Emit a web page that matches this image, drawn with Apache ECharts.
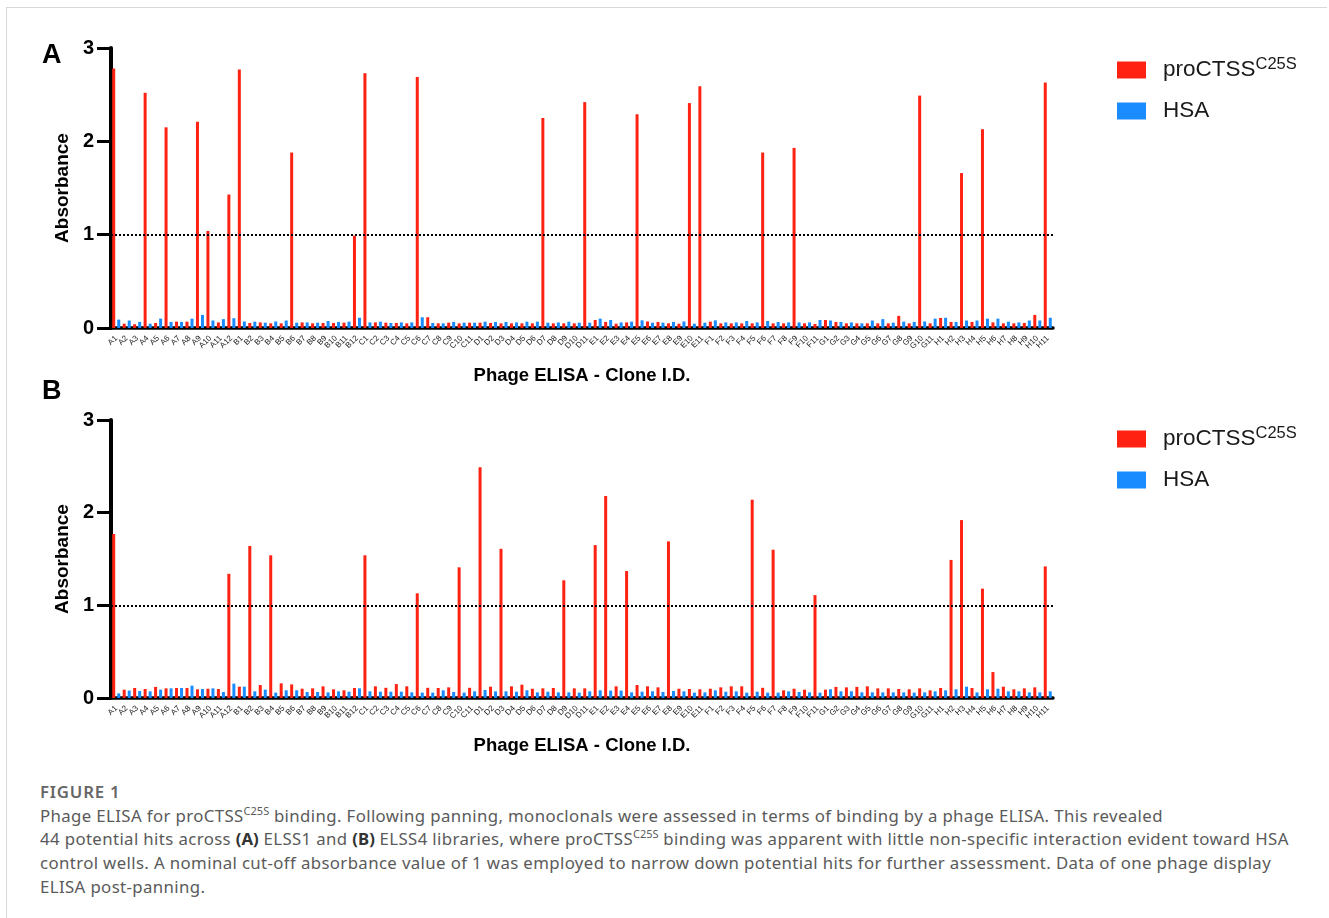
<!DOCTYPE html>
<html>
<head>
<meta charset="utf-8">
<title>Phage ELISA</title>
<script src="https://cdn.jsdelivr.net/npm/echarts@6/dist/echarts.min.js"></script>
<style>
  html, body { margin: 0; padding: 0; background: #fff; }
  #frame {
    position: absolute; left: 6px; top: 7px; width: 1320px; height: 920px;
    border-left: 1px solid #d8d8d8; border-top: 1px solid #d8d8d8;
  }
  #chart { position: absolute; left: 0; top: 0; width: 1329px; height: 770px; }
  #caption {
    position: absolute; left: 40px; top: 780px; white-space: nowrap;
    font-family: 'Noto Sans', sans-serif; font-size: 16.8px; letter-spacing: 0.38px;
    line-height: 23.7px; color: #5a5a5a;
  }
  #caption .fig { font-weight: 600; color: #666; letter-spacing: 0.8px; }
  #caption sup { font-size: 11px; line-height: 0; letter-spacing: 0; }
  #caption b { color: #333; letter-spacing: 0; }
</style>
</head>
<body>
<div id="frame"></div>
<div id="chart"></div>
<div id="caption">
  <div class="fig">FIGURE 1</div>
  Phage ELISA for proCTSS<sup>C25S</sup> binding. Following panning, monoclonals were assessed in terms of binding by a phage ELISA. This revealed<br>
  44 potential hits across <b>(A)</b> ELSS1 and <b>(B)</b> ELSS4 libraries, where proCTSS<sup>C25S</sup> binding was apparent with little non-specific interaction evident toward HSA<br>
  control wells. A nominal cut-off absorbance value of 1 was employed to narrow down potential hits for further assessment. Data of one phage display<br>
  ELISA post-panning.
</div>
<script>
// clone IDs
var clones = [
  'A1','A2','A3','A4','A5','A6','A7','A8','A9','A10','A11','A12',
  'B1','B2','B3','B4','B5','B6','B7','B8','B9','B10','B11','B12',
  'C1','C2','C3','C4','C5','C6','C7','C8','C9','C10','C11',
  'D1','D2','D3','D4','D5','D6','D7','D8','D9','D10','D11',
  'E1','E2','E3','E4','E5','E6','E7','E8','E9','E10','E11',
  'F1','F2','F3','F4','F5','F6','F7','F8','F9','F10','F11',
  'G1','G2','G3','G4','G5','G6','G7','G8','G9','G10','G11',
  'H1','H2','H3','H4','H5','H6','H7','H8','H9','H10','H11'
];

// panel A (ELSS1)
var procA = [
  2.78, 0.046, 0.04, 2.52, 0.054, 2.15, 0.068, 0.068, 2.21, 1.04, 0.06, 1.43,
  2.77, 0.054, 0.06, 0.05, 0.05, 1.88, 0.06, 0.05, 0.054, 0.054, 0.057, 0.99,
  2.73, 0.06, 0.057, 0.054, 0.05, 2.69, 0.115, 0.05, 0.057, 0.05, 0.057,
  0.057, 0.054, 0.05, 0.05, 0.05, 0.05, 2.25, 0.05, 0.05, 0.05, 2.42,
  0.086, 0.065, 0.046, 0.06, 2.29, 0.07, 0.065, 0.05, 0.046, 2.41, 2.59,
  0.068, 0.05, 0.05, 0.05, 0.05, 1.88, 0.05, 0.05, 1.93, 0.05, 0.043,
  0.086, 0.065, 0.05, 0.05, 0.05, 0.05, 0.05, 0.13, 0.05, 2.49, 0.05,
  0.107, 0.065, 1.66, 0.065, 2.13, 0.06, 0.05, 0.05, 0.054, 0.14, 2.63
];
var hsaA = [
  0.09, 0.08, 0.065, 0.046, 0.10, 0.065, 0.065, 0.10, 0.14, 0.08, 0.095, 0.105,
  0.07, 0.068, 0.057, 0.07, 0.08, 0.057, 0.06, 0.057, 0.075, 0.065, 0.068, 0.11,
  0.06, 0.068, 0.054, 0.06, 0.06, 0.115, 0.054, 0.05, 0.065, 0.057, 0.057,
  0.068, 0.065, 0.065, 0.06, 0.068, 0.068, 0.057, 0.06, 0.068, 0.057, 0.057,
  0.10, 0.086, 0.06, 0.068, 0.082, 0.057, 0.057, 0.065, 0.07, 0.046, 0.057,
  0.082, 0.06, 0.06, 0.075, 0.06, 0.075, 0.065, 0.06, 0.06, 0.06, 0.086,
  0.08, 0.065, 0.06, 0.05, 0.08, 0.095, 0.057, 0.068, 0.065, 0.07, 0.10,
  0.11, 0.065, 0.08, 0.08, 0.10, 0.10, 0.068, 0.06, 0.08, 0.08, 0.11
];

// panel B (ELSS4)
var procB = [
  1.77, 0.09, 0.108, 0.097, 0.12, 0.104, 0.108, 0.108, 0.094, 0.10, 0.097, 1.34,
  0.122, 1.64, 0.14, 1.54, 0.158, 0.147, 0.10, 0.104, 0.126, 0.094, 0.083, 0.108,
  1.54, 0.126, 0.11, 0.15, 0.126, 1.13, 0.11, 0.108, 0.115, 1.41, 0.11,
  2.49, 0.122, 1.61, 0.126, 0.144, 0.10, 0.104, 0.108, 1.27, 0.104, 0.104,
  1.65, 2.18, 0.126, 1.37, 0.14, 0.126, 0.115, 1.69, 0.10, 0.097, 0.094,
  0.10, 0.115, 0.126, 0.126, 2.14, 0.11, 1.60, 0.083, 0.10, 0.09, 1.11,
  0.09, 0.12, 0.115, 0.12, 0.126, 0.104, 0.104, 0.097, 0.094, 0.104, 0.083,
  0.108, 1.49, 1.92, 0.108, 1.18, 0.28, 0.122, 0.094, 0.104, 0.115, 1.42
];
var hsaB = [
  0.05, 0.08, 0.075, 0.072, 0.09, 0.104, 0.108, 0.133, 0.097, 0.104, 0.065, 0.155,
  0.122, 0.072, 0.09, 0.058, 0.083, 0.083, 0.065, 0.065, 0.061, 0.072, 0.068, 0.104,
  0.072, 0.068, 0.068, 0.068, 0.061, 0.058, 0.058, 0.083, 0.065, 0.058, 0.072,
  0.086, 0.072, 0.072, 0.068, 0.083, 0.061, 0.068, 0.061, 0.061, 0.058, 0.072,
  0.083, 0.08, 0.08, 0.061, 0.068, 0.072, 0.065, 0.075, 0.072, 0.058, 0.061,
  0.083, 0.068, 0.072, 0.058, 0.068, 0.058, 0.058, 0.072, 0.065, 0.061, 0.058,
  0.094, 0.072, 0.072, 0.061, 0.061, 0.061, 0.061, 0.061, 0.058, 0.061, 0.072,
  0.083, 0.094, 0.122, 0.061, 0.094, 0.10, 0.072, 0.072, 0.061, 0.061, 0.072
];

var cutOff = 1;
var RED = '#ff2212';
var BLUE = '#1a8cff';
var FONT = 'Arial, "Liberation Sans", Helvetica, sans-serif';

var chart = echarts.init(document.getElementById('chart'));

function xAxisFor(gridIndex) {
  return {
    type: 'category',
    gridIndex: gridIndex,
    data: clones,
    boundaryGap: true,
    name: 'Phage ELISA - Clone I.D.',
    nameLocation: 'middle',
    nameGap: 38,
    nameTextStyle: { fontFamily: FONT, fontSize: 18.5, fontWeight: 'bold', color: '#000' },
    axisLine: { lineStyle: { color: '#000', width: 3.5 } },
    axisTick: { alignWithLabel: true, interval: 0, length: 8, lineStyle: { color: '#000', width: 4 } },
    axisLabel: { interval: 0, rotate: 45, fontSize: 8, margin: 9, color: '#222', fontFamily: FONT },
    splitLine: { show: false }
  };
}

function yAxisFor(gridIndex) {
  return {
    type: 'value',
    gridIndex: gridIndex,
    min: 0,
    max: 3,
    interval: 1,
    name: 'Absorbance',
    nameLocation: 'middle',
    nameRotate: 90,
    nameGap: 36,
    nameTextStyle: { fontFamily: FONT, fontSize: 19, fontWeight: 'bold', color: '#000' },
    axisLine: { show: true, lineStyle: { color: '#000', width: 4 } },
    axisTick: { show: true, length: 14, lineStyle: { color: '#000', width: 3 } },
    axisLabel: { fontSize: 20, fontWeight: 'bold', color: '#000', margin: 17, fontFamily: FONT },
    splitLine: { show: false }
  };
}

function legendFor(top) {
  return {
    orient: 'vertical',
    left: 1117,
    top: top,
    padding: 0,
    itemWidth: 29,
    itemHeight: 17,
    itemGap: 18,
    icon: 'rect',
    data: ['proCTSS', 'HSA'],
    formatter: function (name) {
      return name === 'proCTSS' ? '{a|proCTSS}{s|C25S}' : '{a|HSA}';
    },
    textStyle: {
      rich: {
        a: { fontFamily: FONT, fontSize: 22.5, lineHeight: 28, color: '#1a1a1a', padding: [0, 0, 0, 12] },
        s: { fontFamily: FONT, fontSize: 16.5, lineHeight: 17, color: '#1a1a1a', verticalAlign: 'top' }
      }
    }
  };
}

var cutLine = {
  silent: true,
  symbol: 'none',
  label: { show: false },
  lineStyle: { type: 'dotted', color: '#000', width: 2 },
  data: [{ yAxis: cutOff }]
};

function barSeries(name, data, color, idx, withLine) {
  var s = {
    name: name,
    type: 'bar',
    xAxisIndex: idx,
    yAxisIndex: idx,
    data: data,
    barWidth: 3,
    barGap: '67%',
    itemStyle: { color: color },
    animation: false
  };
  if (withLine) s.markLine = cutLine;
  return s;
}

chart.setOption({
  animation: false,
  title: [
    { text: 'A', left: 37, top: 37, textStyle: { fontFamily: FONT, fontSize: 27, fontWeight: 'bold', color: '#000' } },
    { text: 'B', left: 37, top: 373, textStyle: { fontFamily: FONT, fontSize: 27, fontWeight: 'bold', color: '#000' } }
  ],
  legend: [legendFor(56), legendFor(425)],
  grid: [
    { left: 111, top: 48, width: 942, height: 280 },
    { left: 111, top: 420, width: 942, height: 278 }
  ],
  xAxis: [xAxisFor(0), xAxisFor(1)],
  yAxis: [yAxisFor(0), yAxisFor(1)],
  series: [
    barSeries('proCTSS', procA, RED, 0, true),
    barSeries('HSA', hsaA, BLUE, 0, false),
    barSeries('proCTSS', procB, RED, 1, true),
    barSeries('HSA', hsaB, BLUE, 1, false)
  ]
});
</script>
</body>
</html>
